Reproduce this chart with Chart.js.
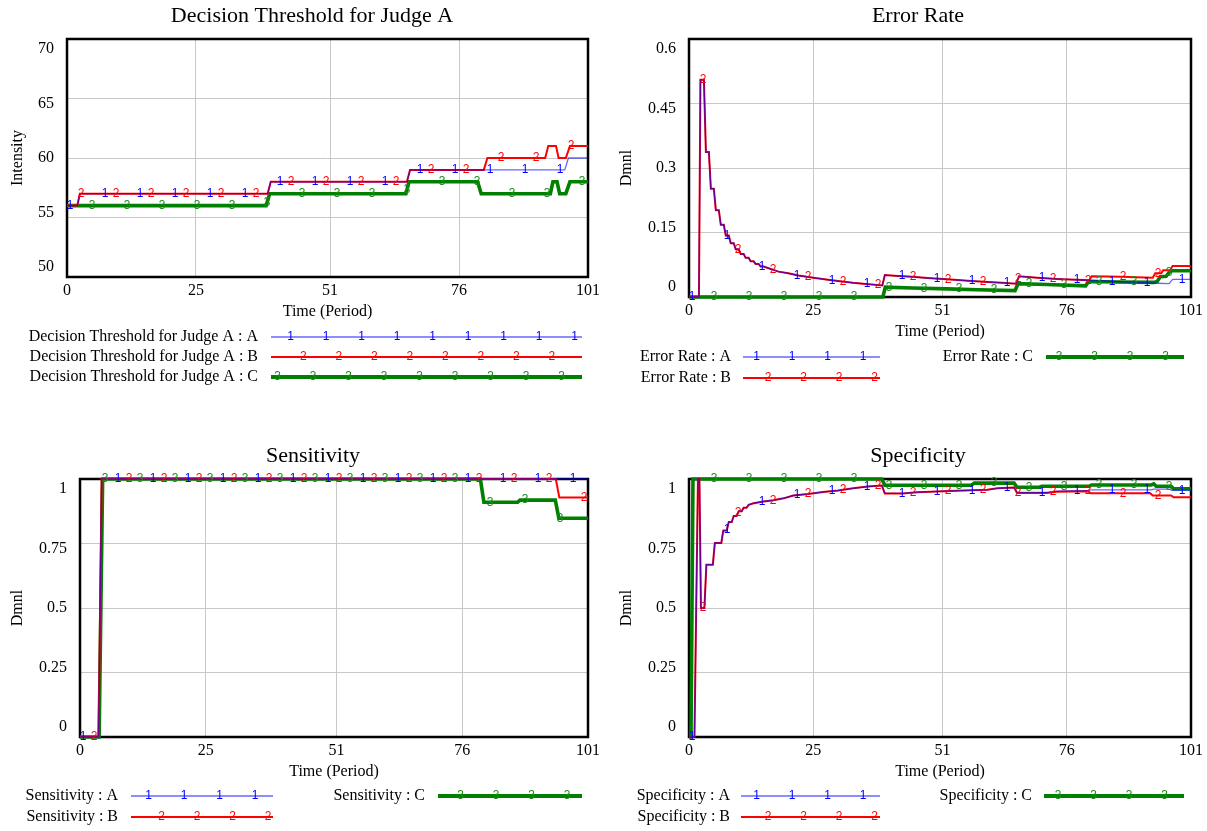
<!DOCTYPE html>
<html>
<head>
<meta charset="utf-8">
<script src="https://cdn.jsdelivr.net/npm/chart.js@4.4.1/dist/chart.umd.min.js"></script>
<style>
  html, body { margin: 0; padding: 0; background: #fff; }
  #wrap { position: relative; width: 1207px; height: 831px; overflow: hidden; }
  canvas { position: absolute; left: 0; top: 0; }
</style>
</head>
<body>
<div id="wrap">
  <canvas id="c1" width="1207" height="831"></canvas>
  <canvas id="c2" width="1207" height="831"></canvas>
  <canvas id="c3" width="1207" height="831"></canvas>
  <canvas id="c4" width="1207" height="831"></canvas>
</div>
<script>
// tick labels
const timeTicks = [0, 25, 51, 76, 101];
const thresholdTicks = [50, 55, 60, 65, 70];
const errorTicks = [0, 0.15, 0.3, 0.45, 0.6];
const rateTicks = [0, 0.25, 0.5, 0.75, 1];
const runNames = ['A', 'B', 'C'];

// [time, value]
const thresholdA = [[0,56],[2,56],[2.5,57],[38.9,57],[39.5,58],[65.9,58],[66.5,59],[96.5,59],[97.2,60],[101,60]];
const thresholdB = [[0,56],[2,56],[2.5,57],[38.9,57],[39.5,58],[65.9,58],[66.5,59],[80.8,59],[81.5,60],[92.7,60],[93.3,61],
  [94.8,61],[95.3,60],[96.7,60],[97.5,61],[101,61]];
const thresholdC = [[0,56],[38.6,56],[39.3,57],[65.7,57],[66.3,58],[79.6,58],[80.3,57],[93.7,57],[94.2,58],[95,58],[95.5,57],
  [96.7,57],[97.5,58],[101,58]];

const errorA = [[0,0],[2,0],[2.3,0.505],[3,0.505],[3.4,0.337],[4,0.337],[4.4,0.252],[5,0.252],[5.4,0.202],[6,0.202],
  [6.4,0.168],[7,0.168],[7.4,0.143],[8,0.143],[8.4,0.125],[9,0.125],[9.4,0.111],[10,0.111],[10.4,0.1],[11,0.1],
  [11.4,0.091],[12,0.091],[12.4,0.083],[13,0.083],[13.4,0.077],[14,0.077],[14.4,0.071],[15,0.071],[16,0.067],[17,0.063],
  [18,0.059],[20,0.055],[22,0.05],[25,0.045],[28,0.04],[30,0.037],[33,0.033],[35,0.031],[38.9,0.027],[39.4,0.051],
  [42,0.049],[45,0.047],[48,0.044],[52,0.041],[56,0.038],[60,0.035],[63,0.033],[65.8,0.031],[66.4,0.048],[70,0.045],
  [74,0.042],[78,0.04],[81,0.039],[86,0.036],[90,0.034],[94,0.032],[96.6,0.031],[97.3,0.041],[101,0.041]];
const errorB = [[0,0],[2,0],[2.3,0.505],[3,0.505],[3.4,0.337],[4,0.337],[4.4,0.252],[5,0.252],[5.4,0.202],[6,0.202],
  [6.4,0.168],[7,0.168],[7.4,0.143],[8,0.143],[8.4,0.125],[9,0.125],[9.4,0.111],[10,0.111],[10.4,0.1],[11,0.1],
  [11.4,0.091],[12,0.091],[12.4,0.083],[13,0.083],[13.4,0.077],[14,0.077],[14.4,0.071],[15,0.071],[16,0.067],[17,0.063],
  [18,0.059],[20,0.055],[22,0.05],[25,0.045],[28,0.04],[30,0.037],[33,0.033],[35,0.031],[38.9,0.027],[39.4,0.051],
  [42,0.049],[45,0.047],[48,0.044],[52,0.041],[56,0.038],[60,0.035],[63,0.033],[65.8,0.031],[66.4,0.048],[70,0.045],
  [74,0.042],[78,0.04],[80.5,0.039],[81,0.048],[87,0.047],[93.3,0.045],[93.8,0.055],[95,0.055],[95.4,0.062],[96.8,0.062],
  [97.3,0.072],[101,0.072]];
const errorC = [[0,0],[39,0],[39.5,0.023],[45,0.021],[52,0.019],[58,0.017],[65.6,0.015],[66.2,0.031],[72,0.029],
  [79.8,0.026],[80.4,0.036],[86,0.035],[93.5,0.034],[94.2,0.036],[94.8,0.047],[96,0.048],[96.6,0.057],[97.2,0.061],[101,0.061]];

const sensitivityA = [[0,0],[3.7,0],[4.3,1],[101,1]];
const sensitivityB = [[0,0],[3.7,0],[4.3,1],[94.6,1],[95.3,0.928],[101,0.928]];
const sensitivityC = [[0,0],[3.8,0],[4.5,1],[79.6,1],[80.3,0.91],[87,0.91],[87.5,0.918],[94.5,0.918],[95.2,0.848],[101,0.848]];

const specificityA = [[0,0],[1.1,0],[1.8,1],[2.1,1],[2.4,0.5],[3.1,0.5],[3.5,0.668],[4.8,0.668],[5.2,0.752],[6.5,0.752],
  [6.9,0.8],[7.6,0.8],[8,0.833],[8.6,0.833],[9,0.857],[9.6,0.857],[10,0.875],[10.6,0.875],[11,0.889],[11.6,0.889],
  [12,0.9],[13,0.906],[15,0.913],[17,0.918],[19,0.925],[21,0.936],[24,0.942],[27,0.95],[30,0.955],[33,0.964],[36,0.971],
  [38.8,0.975],[39.4,0.944],[43,0.944],[46,0.949],[50,0.952],[55,0.955],[60,0.958],[62,0.964],[65.4,0.967],[66,0.948],
  [72,0.948],[74,0.953],[80.3,0.955],[80.8,0.958],[93,0.958],[93.5,0.961],[96.6,0.961],[97.2,0.956],[101,0.956]];
const specificityB = [[0,0],[1.1,0],[1.8,1],[2.1,1],[2.4,0.5],[3.1,0.5],[3.5,0.668],[4.8,0.668],[5.2,0.752],[6.5,0.752],
  [6.9,0.8],[7.6,0.8],[8,0.833],[8.6,0.833],[9,0.857],[9.6,0.857],[10,0.875],[10.6,0.875],[11,0.889],[11.6,0.889],
  [12,0.9],[13,0.906],[15,0.913],[17,0.918],[19,0.925],[21,0.936],[24,0.942],[27,0.95],[30,0.955],[33,0.964],[36,0.971],
  [38.8,0.975],[39.4,0.944],[43,0.944],[46,0.949],[50,0.952],[55,0.955],[60,0.958],[62,0.964],[65.4,0.967],[66,0.946],
  [72,0.946],[74,0.951],[80.3,0.953],[80.8,0.945],[92.8,0.945],[93.3,0.936],[97,0.936],[97.5,0.929],[101,0.929]];
const specificityC = [[0,0],[0.4,0],[0.8,1],[38.8,1],[39.4,0.976],[56.8,0.976],[57.4,0.984],[65.4,0.984],[66,0.968],
  [70.5,0.968],[71,0.972],[80.5,0.972],[81,0.977],[93,0.977],[93.5,0.981],[94,0.972],[97,0.972],[97.5,0.962],[101,0.962]];

const lineStyles = [
  { color: 'rgba(0,0,255,0.6)', mark: '#0000ff', width: 1.3, legendWidth: 1.5 },
  { color: '#ff0000', mark: '#ff0000', width: 2, legendWidth: 2 },
  { color: '#008000', mark: '#1a8c1a', width: 3.6, legendWidth: 4 },
];
const SERIF = '"Liberation Serif", "Times New Roman", serif';
const SANS = '"Liberation Sans", Arial, sans-serif';

const panels = [
  {
    canvas: 'c1', box: [67, 39, 588, 277], yRange: [50, 70], yTicks: thresholdTicks,
    title: 'Decision Threshold for Judge A', titleX: 312, titleY: 16, yTitle: 'Intensity', yTitleX: 18,
    name: 'Decision Threshold for Judge A', series: [thresholdA, thresholdB, thresholdC],
    legend: [
      { right: 258, row: 337, x1: 271, x2: 582, first: 19.7 },
      { right: 258, row: 357, x1: 271, x2: 582, first: 32.4 },
      { right: 258, row: 377, x1: 271, x2: 582, first: 6.5 },
    ],
  },
  {
    canvas: 'c2', box: [689, 39, 1191, 297], yRange: [0, 0.6], yTicks: errorTicks,
    title: 'Error Rate', titleX: 918, titleY: 16, yTitle: 'Dmnl', yTitleX: 627,
    name: 'Error Rate', series: [errorA, errorB, errorC],
    legend: [
      { right: 731, row: 357, x1: 743, x2: 880, first: 13.5 },
      { right: 731, row: 378, x1: 743, x2: 880, first: 25 },
      { right: 1033, row: 357, x1: 1046, x2: 1184, first: 13 },
    ],
  },
  {
    canvas: 'c3', box: [80, 479, 588, 737], yRange: [0, 1], yTicks: rateTicks,
    title: 'Sensitivity', titleX: 313, titleY: 456, yTitle: 'Dmnl', yTitleX: 18,
    name: 'Sensitivity', series: [sensitivityA, sensitivityB, sensitivityC],
    legend: [
      { right: 118, row: 796, x1: 131, x2: 273, first: 17.5 },
      { right: 118, row: 817, x1: 131, x2: 273, first: 30.5 },
      { right: 425, row: 796, x1: 438, x2: 582, first: 22.5 },
    ],
  },
  {
    canvas: 'c4', box: [689, 479, 1191, 737], yRange: [0, 1], yTicks: rateTicks,
    title: 'Specificity', titleX: 918, titleY: 456, yTitle: 'Dmnl', yTitleX: 627,
    name: 'Specificity', series: [specificityA, specificityB, specificityC],
    legend: [
      { right: 730, row: 796, x1: 741, x2: 880, first: 15.5 },
      { right: 730, row: 817, x1: 741, x2: 880, first: 27 },
      { right: 1032, row: 796, x1: 1044, x2: 1184, first: 14 },
    ],
  },
];

const MARK_STEP = 35;
const MARK_START = [3, 14, 25];

function valueAt(pts, t) {
  for (let i = 0; i < pts.length - 1; i++) {
    const [t0, v0] = pts[i], [t1, v1] = pts[i + 1];
    if (t <= t1) return t1 === t0 ? v1 : v0 + (v1 - v0) * (t - t0) / (t1 - t0);
  }
  return pts[pts.length - 1][1];
}

function makeDecor(p) {
  return {
    id: 'vensimDecor',
    beforeDatasetsDraw(chart) {
      const { ctx, chartArea: a } = chart;
      ctx.save();
      ctx.strokeStyle = '#000';
      ctx.lineWidth = 2.5;
      ctx.strokeRect(a.left, a.top, a.right - a.left, a.bottom - a.top);
      ctx.restore();
    },
    afterDatasetsDraw(chart) {
      // numbered run markers along each line
      const { ctx, chartArea: a } = chart;
      const xs = chart.scales.x, ys = chart.scales.y;
      ctx.save();
      ctx.font = '12px ' + SANS;
      ctx.textAlign = 'center';
      ctx.textBaseline = 'middle';
      p.series.forEach((pts, i) => {
        ctx.fillStyle = lineStyles[i].mark;
        for (let px = a.left + MARK_START[i]; px <= a.right + 1; px += MARK_STEP) {
          const t = Math.min(xs.getValueForPixel(px), xs.max);
          const py = ys.getPixelForValue(valueAt(pts, t));
          ctx.fillText(String(i + 1), px, py);
        }
      });
      ctx.restore();
    },
    afterDraw(chart) {
      const { ctx, chartArea: a } = chart;
      const xs = chart.scales.x, ys = chart.scales.y;
      ctx.save();
      ctx.fillStyle = '#000';
      ctx.textBaseline = 'middle';

      ctx.font = '22px ' + SERIF;
      ctx.textAlign = 'center';
      ctx.fillText(p.title, p.titleX, p.titleY);

      ctx.font = '16px ' + SERIF;
      ctx.textAlign = 'right';
      p.yTicks.forEach(v => {
        const f = (v - ys.min) / (ys.max - ys.min);
        const y = a.bottom - 10 - f * (a.bottom - a.top - 20);
        ctx.fillText(String(v), a.left - 13, y);
      });

      ctx.textAlign = 'center';
      timeTicks.forEach(v => ctx.fillText(String(v), xs.getPixelForValue(v), a.bottom + 13.5));
      ctx.fillText('Time (Period)', (a.left + a.right) / 2, a.bottom + 35);

      ctx.save();
      ctx.translate(p.yTitleX, (a.top + a.bottom) / 2);
      ctx.rotate(-Math.PI / 2);
      ctx.fillText(p.yTitle, 0, 0);
      ctx.restore();

      // legend
      p.legend.forEach((lg, i) => {
        const st = lineStyles[i];
        ctx.font = '16px ' + SERIF;
        ctx.textAlign = 'right';
        ctx.fillStyle = '#000';
        ctx.fillText(`${p.name} : ${runNames[i]}`, lg.right, lg.row);
        ctx.strokeStyle = st.color;
        ctx.lineWidth = st.legendWidth;
        ctx.beginPath();
        ctx.moveTo(lg.x1, lg.row);
        ctx.lineTo(lg.x2, lg.row);
        ctx.stroke();
        ctx.font = '12px ' + SANS;
        ctx.textAlign = 'center';
        ctx.fillStyle = st.mark;
        for (let x = lg.x1 + lg.first; x <= lg.x2 - 2; x += 35.5) ctx.fillText(String(i + 1), x, lg.row);
      });
      ctx.restore();
    },
  };
}

panels.forEach(p => {
  const [l, t, r, b] = p.box;
  new Chart(document.getElementById(p.canvas), {
    type: 'line',
    data: {
      datasets: p.series.map((s, i) => ({
        label: runNames[i],
        data: s.map(([x, y]) => ({ x, y })),
        borderColor: lineStyles[i].color,
        borderWidth: lineStyles[i].width,
        pointRadius: 0,
        tension: 0,
        fill: false,
        clip: false,
      })),
    },
    options: {
      responsive: false,
      animation: false,
      events: [],
      layout: { padding: { left: l, top: t, right: 1207 - r, bottom: 831 - b } },
      plugins: { legend: { display: false }, tooltip: { enabled: false }, title: { display: false } },
      scales: {
        x: {
          type: 'linear', min: 0, max: 101,
          afterBuildTicks: s => { s.ticks = timeTicks.map(v => ({ value: v })); },
          afterFit: s => { s.height = 0; },
          ticks: { display: false },
          grid: { color: '#c8c8c8', lineWidth: 1, drawTicks: false },
          border: { display: false },
        },
        y: {
          type: 'linear', min: p.yRange[0], max: p.yRange[1],
          afterBuildTicks: s => { s.ticks = p.yTicks.map(v => ({ value: v })); },
          afterFit: s => { s.width = 0; },
          ticks: { display: false },
          grid: { color: '#c8c8c8', lineWidth: 1, drawTicks: false },
          border: { display: false },
        },
      },
    },
    plugins: [makeDecor(p)],
  });
});
</script>
</body>
</html>
